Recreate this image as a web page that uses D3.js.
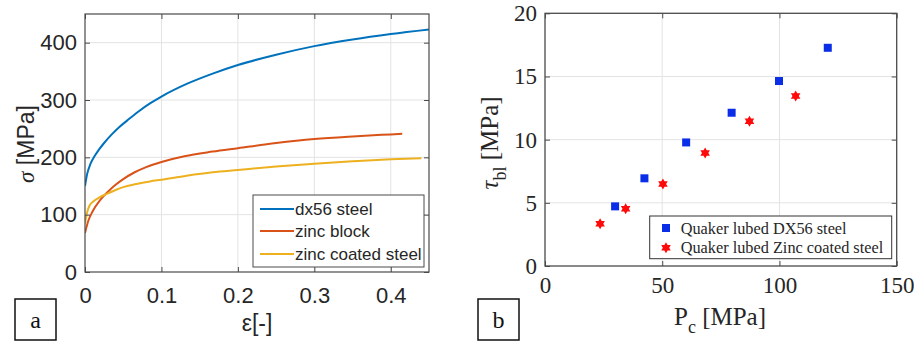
<!DOCTYPE html>
<html><head><meta charset="utf-8">
<script src="https://cdn.jsdelivr.net/npm/d3@7"></script>
<style>body{margin:0;background:#fff} svg{display:block}</style>
</head><body>
<svg id="c" width="914" height="344"></svg>
<script>
// ---------- Panel a data ----------
const dx56Eps = [0, 0.003, 0.007, 0.012, 0.018, 0.025, 0.035, 0.045, 0.055, 0.07, 0.085, 0.1, 0.133, 0.167, 0.2, 0.25, 0.3, 0.35, 0.4, 0.45];
const dx56Sig = [150, 172, 188, 201, 213, 225, 240, 253, 264, 280, 294, 306, 328, 346, 361, 379, 394, 405.5, 415, 423];
const zincBlockEps = [0, 0.004, 0.01, 0.02, 0.03, 0.04, 0.05, 0.065, 0.08, 0.1, 0.13, 0.167, 0.2, 0.25, 0.3, 0.35, 0.4, 0.415];
const zincBlockSig = [68, 88, 106, 126, 140, 152, 162, 174, 183, 192, 202, 210, 216, 225, 232, 236.5, 240, 241];
const zincCoatedEps = [0, 0.003, 0.006, 0.01, 0.02, 0.03, 0.04, 0.05, 0.065, 0.085, 0.1, 0.133, 0.167, 0.2, 0.25, 0.3, 0.35, 0.4, 0.44];
const zincCoatedSig = [85, 105, 116, 122, 131, 137, 143, 148, 153, 158, 161, 168, 174, 178, 184, 189, 193, 196.5, 198.5];
const seriesA = ["dx56 steel", "zinc block", "zinc coated steel"];
const xTicksA = [0, 0.1, 0.2, 0.3, 0.4];
const yTicksA = [0, 100, 200, 300, 400];

// ---------- Panel b data ----------
const dx56Pc = [29.9, 42.4, 60.2, 79.6, 99.8, 120.6];
const dx56Tau = [4.72, 6.94, 9.78, 12.13, 14.64, 17.27];
const zincPc = [23.5, 34.4, 50.3, 68.3, 87.2, 106.9];
const zincTau = [3.35, 4.54, 6.49, 8.94, 11.45, 13.45];
const seriesB = ["Quaker lubed DX56 steel", "Quaker lubed Zinc coated steel"];
const xTicksB = [0, 50, 100, 150];
const yTicksB = [0, 5, 10, 15, 20];

const svg = d3.select("#c");
const colorsA = ["#0072BD", "#D95319", "#EDB120"];
const sans = "'Liberation Sans', Arial, sans-serif";
const serif = "'Liberation Serif', 'Times New Roman', serif";
const boxCol = "#4a4a4a", gridCol = "#e3e3e3", txtCol = "#262626";

// ================= Panel a =================
const ax = {l: 85, r: 429, t: 14, b: 272};
const xA = d3.scaleLinear().domain([0, 0.45]).range([ax.l, ax.r]);
const yA = d3.scaleLinear().domain([0, 450]).range([ax.b, ax.t]);
const gA = svg.append("g");

// grid
gA.append("g").selectAll("line").data(xTicksA.slice(1)).join("line")
  .attr("x1", d => xA(d)).attr("x2", d => xA(d)).attr("y1", ax.t).attr("y2", ax.b)
  .attr("stroke", gridCol).attr("stroke-width", 1);
gA.append("g").selectAll("line").data(yTicksA.slice(1)).join("line")
  .attr("y1", d => yA(d)).attr("y2", d => yA(d)).attr("x1", ax.l).attr("x2", ax.r)
  .attr("stroke", gridCol).attr("stroke-width", 1);

// curves
const dataA = [
  d3.zip(dx56Eps, dx56Sig),
  d3.zip(zincBlockEps, zincBlockSig),
  d3.zip(zincCoatedEps, zincCoatedSig)
];
const lineA = d3.line().x(d => xA(d[0])).y(d => yA(d[1])).curve(d3.curveMonotoneX);
svg.append("clipPath").attr("id", "clipA").append("rect")
  .attr("x", ax.l).attr("y", ax.t).attr("width", ax.r - ax.l).attr("height", ax.b - ax.t);
gA.append("g").attr("clip-path", "url(#clipA)").selectAll("path").data(dataA).join("path")
  .attr("d", lineA).attr("fill", "none").attr("stroke", (d, i) => colorsA[i]).attr("stroke-width", 2);

// axes
function styleAxis(g, font, size) {
  g.select(".domain").remove();
  g.selectAll(".tick line").attr("stroke", boxCol);
  g.selectAll(".tick text").attr("font-family", font).attr("font-size", size).attr("fill", txtCol);
}
gA.append("g").attr("transform", `translate(0,${ax.b})`)
  .call(d3.axisBottom(xA).tickValues(xTicksA).tickFormat(d => d === 0 ? "0" : d3.format(".1f")(d)).tickSizeInner(-5).tickSizeOuter(0).tickPadding(15))
  .call(g => styleAxis(g, sans, 22));
gA.append("g").attr("transform", `translate(${ax.l},0)`)
  .call(d3.axisLeft(yA).tickValues(yTicksA).tickSizeInner(-5).tickSizeOuter(0).tickPadding(8))
  .call(g => styleAxis(g, sans, 22));
gA.append("g").attr("transform", `translate(0,${ax.t})`)
  .call(d3.axisTop(xA).tickValues(xTicksA).tickFormat("").tickSizeInner(-5).tickSizeOuter(0))
  .call(g => styleAxis(g, sans, 22));
gA.append("g").attr("transform", `translate(${ax.r},0)`)
  .call(d3.axisRight(yA).tickValues(yTicksA).tickFormat("").tickSizeInner(-5).tickSizeOuter(0))
  .call(g => styleAxis(g, sans, 22));
gA.append("rect").attr("x", ax.l).attr("y", ax.t).attr("width", ax.r - ax.l).attr("height", ax.b - ax.t)
  .attr("fill", "none").attr("stroke", boxCol).attr("stroke-width", 1.2);

// axis labels
gA.append("text").attr("x", (ax.l + ax.r) / 2).attr("y", 331).attr("text-anchor", "middle")
  .attr("font-family", sans).attr("font-size", 23).attr("fill", txtCol).text("ε[-]");
const yla = gA.append("text").attr("transform", `translate(33.5,144) rotate(-90)`).attr("text-anchor", "middle")
  .attr("font-family", sans).attr("font-size", 23).attr("fill", txtCol);
yla.append("tspan").attr("font-family", serif).attr("font-style", "italic").text("σ");
yla.append("tspan").text(" [MPa]");

// legend a
const lgA = gA.append("g");
lgA.append("rect").attr("x", 253).attr("y", 195).attr("width", 171).attr("height", 72)
  .attr("fill", "#fff").attr("stroke", boxCol).attr("stroke-width", 1);
const lgAy = [209, 231, 254];
seriesA.forEach((s, i) => {
  lgA.append("line").attr("x1", 260).attr("x2", 294).attr("y1", lgAy[i]).attr("y2", lgAy[i])
    .attr("stroke", colorsA[i]).attr("stroke-width", 2);
  lgA.append("text").attr("x", 295).attr("y", lgAy[i]).attr("dy", "0.35em")
    .attr("font-family", sans).attr("font-size", 17).attr("fill", txtCol).text(s);
});

// panel label a
gA.append("rect").attr("x", 15).attr("y", 299).attr("width", 41).attr("height", 41)
  .attr("fill", "#fff").attr("stroke", "#111").attr("stroke-width", 1.5);
gA.append("text").attr("x", 35.5).attr("y", 328).attr("text-anchor", "middle")
  .attr("font-family", serif).attr("font-size", 24).attr("fill", "#111").text("a");

// ================= Panel b =================
const bx = {l: 545, r: 896.7, t: 13.3, b: 266};
const xB = d3.scaleLinear().domain([0, 150]).range([bx.l, bx.r]);
const yB = d3.scaleLinear().domain([0, 20]).range([bx.b, bx.t]);
const gB = svg.append("g");

gB.append("g").selectAll("line").data(xTicksB.slice(1, -1)).join("line")
  .attr("x1", d => xB(d)).attr("x2", d => xB(d)).attr("y1", bx.t).attr("y2", bx.b)
  .attr("stroke", gridCol).attr("stroke-width", 1);
gB.append("g").selectAll("line").data(yTicksB.slice(1, -1)).join("line")
  .attr("y1", d => yB(d)).attr("y2", d => yB(d)).attr("x1", bx.l).attr("x2", bx.r)
  .attr("stroke", gridCol).attr("stroke-width", 1);

gB.append("g").attr("transform", `translate(0,${bx.b})`)
  .call(d3.axisBottom(xB).tickValues(xTicksB).tickSizeInner(-5).tickSizeOuter(0).tickPadding(11))
  .call(g => styleAxis(g, serif, 23));
gB.append("g").attr("transform", `translate(${bx.l},0)`)
  .call(d3.axisLeft(yB).tickValues(yTicksB).tickSizeInner(-5).tickSizeOuter(0).tickPadding(8))
  .call(g => styleAxis(g, serif, 23));
gB.append("g").attr("transform", `translate(0,${bx.t})`)
  .call(d3.axisTop(xB).tickValues(xTicksB).tickFormat("").tickSizeInner(-5).tickSizeOuter(0))
  .call(g => styleAxis(g, serif, 23));
gB.append("g").attr("transform", `translate(${bx.r},0)`)
  .call(d3.axisRight(yB).tickValues(yTicksB).tickFormat("").tickSizeInner(-5).tickSizeOuter(0))
  .call(g => styleAxis(g, serif, 23));
gB.append("rect").attr("x", bx.l).attr("y", bx.t).attr("width", bx.r - bx.l).attr("height", bx.b - bx.t)
  .attr("fill", "none").attr("stroke", boxCol).attr("stroke-width", 1.3);

const sqCol = "#0a2ee8", starCol = "#ff0a0a";
function hexagram(cx, cy, R) {
  const r = R / Math.sqrt(3);
  const pts = [];
  for (let k = 0; k < 12; k++) {
    const a = -Math.PI / 2 + k * Math.PI / 6;
    const rad = k % 2 === 0 ? R : r;
    pts.push([cx + rad * Math.cos(a), cy + rad * Math.sin(a)]);
  }
  return "M" + pts.map(p => p.join(",")).join("L") + "Z";
}
gB.append("g").selectAll("rect").data(d3.zip(dx56Pc, dx56Tau)).join("rect")
  .attr("x", d => xB(d[0]) - 4).attr("y", d => yB(d[1]) - 4).attr("width", 8).attr("height", 8)
  .attr("fill", sqCol);
gB.append("g").selectAll("path").data(d3.zip(zincPc, zincTau)).join("path")
  .attr("d", d => hexagram(xB(d[0]), yB(d[1]), 5.5)).attr("fill", starCol);

// axis labels b
const xlb = gB.append("text").attr("x", 720).attr("y", 325).attr("text-anchor", "middle")
  .attr("font-family", serif).attr("font-size", 25).attr("fill", txtCol);
xlb.append("tspan").text("P");
xlb.append("tspan").attr("font-size", 18).attr("dy", 8).text("c");
xlb.append("tspan").attr("dy", -8).text(" [MPa]");

const ylb = gB.append("text").attr("transform", `translate(497.5,143) rotate(-90)`).attr("text-anchor", "middle")
  .attr("font-family", serif).attr("font-size", 25).attr("fill", txtCol);
ylb.append("tspan").attr("font-style", "italic").text("τ");
ylb.append("tspan").attr("font-size", 18).attr("dy", 8).text("bl");
ylb.append("tspan").attr("dy", -8).text(" [MPa]");

// legend b
const lgB = gB.append("g");
lgB.append("rect").attr("x", 649.7).attr("y", 216).attr("width", 242).attr("height", 42.7)
  .attr("fill", "#fff").attr("stroke", "#333").attr("stroke-width", 1);
lgB.append("rect").attr("x", 662).attr("y", 224).attr("width", 8).attr("height", 8).attr("fill", sqCol);
lgB.append("path").attr("d", hexagram(666, 247.7, 5.5)).attr("fill", starCol);
const lgBy = [228, 247.7];
seriesB.forEach((s, i) => {
  lgB.append("text").attr("x", 680.7).attr("y", lgBy[i]).attr("dy", "0.35em")
    .attr("font-family", serif).attr("font-size", 16.3).attr("fill", txtCol).text(s);
});

// panel label b
gB.append("rect").attr("x", 478).attr("y", 299).attr("width", 41).attr("height", 41)
  .attr("fill", "#fff").attr("stroke", "#111").attr("stroke-width", 1.5);
gB.append("text").attr("x", 498.5).attr("y", 328).attr("text-anchor", "middle")
  .attr("font-family", serif).attr("font-size", 24).attr("fill", "#111").text("b");
</script>
</body></html>
